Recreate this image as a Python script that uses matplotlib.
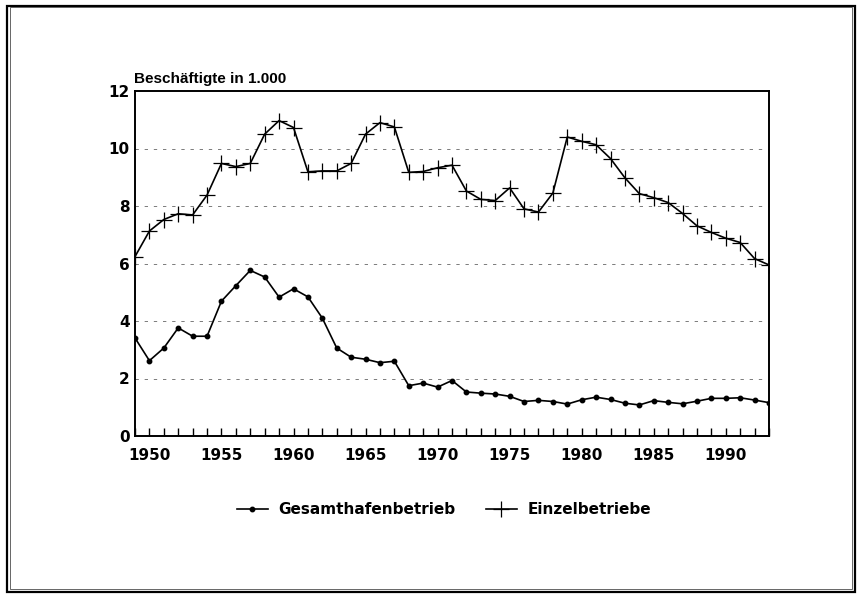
import numpy as np
import matplotlib
matplotlib.use("Agg")
import matplotlib.pyplot as plt
from matplotlib.patches import Rectangle

plt.rcParams['font.family'] = ['DejaVu Sans']
plt.rcParams['font.weight'] = 'bold'

# Jahre 1949 - 1993
jahre = np.arange(1949, 1994)

# Beschäftigte in 1.000
gesamthafen = [3.41, 2.62, 3.06, 3.76, 3.47, 3.47, 4.69, 5.23, 5.76, 5.53,
               4.83, 5.12, 4.84, 4.10, 3.06, 2.74, 2.67, 2.55, 2.60, 1.75,
               1.84, 1.70, 1.93, 1.53, 1.49, 1.46, 1.38, 1.20, 1.24, 1.20,
               1.11, 1.26, 1.35, 1.27, 1.14, 1.08, 1.23, 1.17, 1.12, 1.21,
               1.31, 1.31, 1.33, 1.25, 1.16]
einzel = [6.24, 7.13, 7.53, 7.73, 7.69, 8.38, 9.48, 9.37, 9.48, 10.50,
          10.97, 10.73, 9.19, 9.22, 9.22, 9.48, 10.50, 10.90, 10.75, 9.17,
          9.20, 9.33, 9.42, 8.52, 8.23, 8.19, 8.63, 7.90, 7.79, 8.45,
          10.40, 10.25, 10.13, 9.65, 8.98, 8.43, 8.29, 8.12, 7.74, 7.31,
          7.08, 6.88, 6.73, 6.17, 5.95]

fig = plt.figure(figsize=(8.57, 5.94), dpi=100)
ax = fig.add_axes([135/857, 1-436/594, 634/857, 345/594])

# Gitterlinien (gestrichelt)
for yv in [2, 4, 6, 8, 10]:
    ax.axhline(yv, color='0.4', lw=0.6, ls=(0, (4, 7)), zorder=1)

ax.plot(jahre, gesamthafen, color='black', lw=1.2, marker='o', ms=3.2,
        label='Gesamthafenbetrieb', zorder=3)
ax.plot(jahre, einzel, color='black', lw=1.2, marker='+', ms=11, mew=0.9,
        label='Einzelbetriebe', zorder=3)

ax.set_xlim(1949, 1993)
ax.set_ylim(0, 12)
ax.set_xticks(np.arange(1950, 1991, 5))
ax.set_xticks(np.arange(1949, 1994), minor=True)
ax.set_yticks(np.arange(0, 13, 2))
ax.tick_params(axis='x', which='both', direction='in', length=6, width=1,
               labelsize=11, pad=9)
ax.tick_params(axis='y', length=0, labelsize=11, pad=4)
for lab in ax.get_xticklabels() + ax.get_yticklabels():
    lab.set_fontweight('bold')
for sp in ax.spines.values():
    sp.set_linewidth(1.4)

fig.text(134/857, 1-83/594, 'Beschäftigte in 1.000', fontsize=11,
         fontweight='bold', family='Liberation Sans', ha='left', va='baseline')

leg = fig.legend(loc='center', bbox_to_anchor=(0.518, 1-510/594), ncol=2,
                 frameon=False, fontsize=11, handlelength=2.0,
                 columnspacing=2.0, handletextpad=0.7, numpoints=1)
for t in leg.get_texts():
    t.set_fontweight('bold')

# Rahmen um die ganze Grafik
fig.patches.append(Rectangle((7/857, 1-592/594), 848/857, 586/594,
                             transform=fig.transFigure, fill=False,
                             lw=1.6, color='black'))
fig.patches.append(Rectangle((10/857, 1-589/594), 842/857, 582/594,
                             transform=fig.transFigure, fill=False,
                             lw=0.6, color='0.3'))

fig.savefig('out.png', dpi=100)
